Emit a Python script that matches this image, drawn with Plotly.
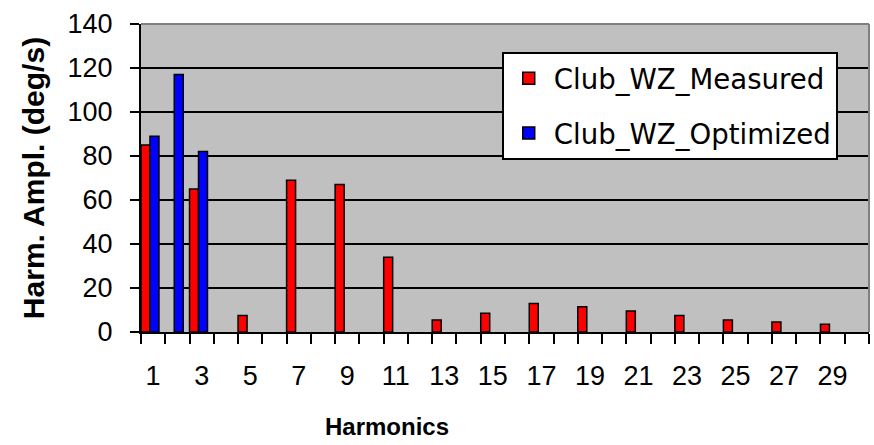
import plotly.graph_objects as go

# Harmonic order (category axis) and amplitudes in deg/s; None = no bar
harmonics = [1, 2, 3, 4, 5, 6, 7, 8, 9, 10, 11, 12, 13, 14, 15,
             16, 17, 18, 19, 20, 21, 22, 23, 24, 25, 26, 27, 28, 29, 30]
measured = [85, None, 65, None, 7.5, None, 69, None, 67, None, 34, None, 5.5, None, 8.5,
            None, 13, None, 11.5, None, 9.5, None, 7.5, None, 5.5, None, 4.5, None, 3.5, None]
optimized = [89, 117, 82, None, None, None, None, None, None, None, None, None, None, None, None,
             None, None, None, None, None, None, None, None, None, None, None, None, None, None, None]
tick_vals = [1, 3, 5, 7, 9, 11, 13, 15, 17, 19, 21, 23, 25, 27, 29]
tick_text = ["1", "3", "5", "7", "9", "11", "13", "15", "17", "19",
             "21", "23", "25", "27", "29"]

SANS = "Liberation Sans, Arial, sans-serif"

fig = go.Figure()
fig.add_trace(go.Bar(
    x=harmonics, y=measured, name="Club_WZ_Measured",
    marker=dict(color="#FF0000", line=dict(color="black", width=1.5)),
    width=0.37, offset=-0.5, legendgroup="m",
))
fig.add_trace(go.Bar(
    x=harmonics, y=optimized, name="Club_WZ_Optimized",
    marker=dict(color="#0000FF", line=dict(color="black", width=1.5)),
    width=0.37, offset=-0.13, legendgroup="o",
))

fig.update_layout(
    width=874, height=445,
    margin=dict(l=141, r=5, t=24, b=113),
    paper_bgcolor="white",
    plot_bgcolor="#C0C0C0",
    barmode="overlay",
    showlegend=True,
    legend=dict(
        x=0.4955, y=0.91, xanchor="left", yanchor="top",
        bgcolor="white", bordercolor="black", borderwidth=2,
        font=dict(family="DejaVu Sans, sans-serif", size=27.6, color="black"),
        tracegroupgap=16, itemwidth=40,
    ),
    xaxis=dict(
        range=[0.5, 30.5], tickmode="array", tickvals=tick_vals, ticktext=tick_text,
        ticks="", showgrid=False, zeroline=False,
        showline=True, linecolor="black", linewidth=2,
        tickfont=dict(family=SANS, size=27, color="black"),
        ticklabelstandoff=19,
        minor=dict(ticks="outside", tickmode="linear", tick0=0.5, dtick=1,
                   ticklen=10, tickwidth=2, tickcolor="black", showgrid=False),
    ),
    yaxis=dict(
        range=[0, 140], tickmode="linear", tick0=0, dtick=20,
        showgrid=True, gridcolor="black", gridwidth=2, zeroline=False,
        showline=True, linecolor="black", linewidth=2,
        ticks="outside", ticklen=9, tickwidth=2, tickcolor="black",
        tickfont=dict(family=SANS, size=27, color="black"),
        ticklabelstandoff=12,
        title=dict(text="Harm. Ampl. (deg/s)", standoff=14,
                   font=dict(family=SANS, size=30, color="black", weight="bold")),
    ),
    shapes=[
        dict(type="line", xref="paper", yref="paper", x0=0, x1=1, y0=1, y1=1,
             line=dict(color="#808080", width=2), layer="above"),
        dict(type="line", xref="paper", yref="paper", x0=1, x1=1, y0=0, y1=1,
             line=dict(color="#808080", width=2), layer="above"),
    ],
    annotations=[
        dict(text="<b>Harmonics</b>", xref="paper", yref="paper",
             x=0.338, y=-0.308, xanchor="center", yanchor="middle",
             showarrow=False,
             font=dict(family=SANS, size=24, color="black")),
    ],
)

fig.write_html("out.html")
